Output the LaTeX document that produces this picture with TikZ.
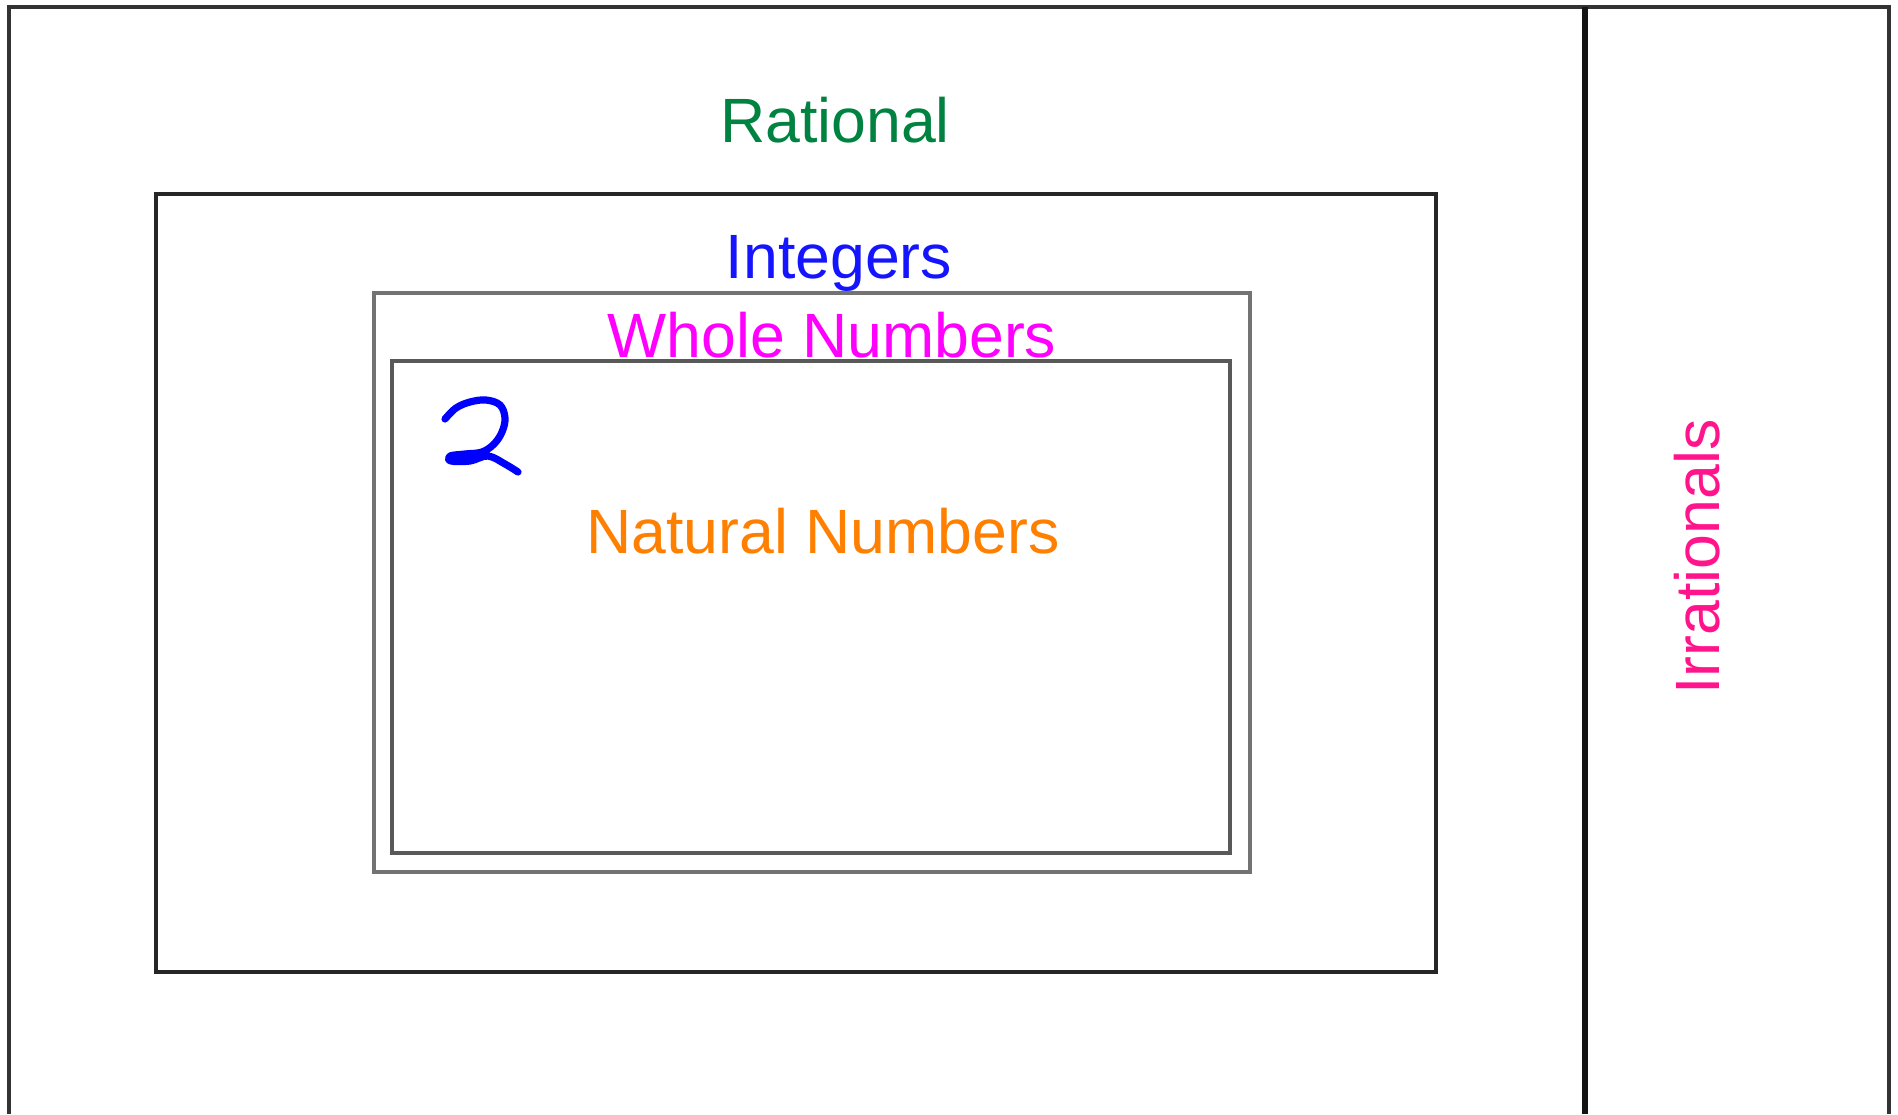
\documentclass[tikz,border=0pt]{standalone}
\usepackage{fontspec}
\setmainfont{Liberation Sans}
\definecolor{ratgreen}{RGB}{0,130,64}
\definecolor{intblue}{RGB}{20,20,255}
\definecolor{wholemag}{RGB}{255,0,255}
\definecolor{natorange}{RGB}{255,128,0}
\definecolor{irrpink}{RGB}{255,20,140}
\definecolor{handblue}{RGB}{0,0,255}
\tikzset{
  lbl/.style={anchor=base, inner sep=0pt, font=\fontsize{31.3}{37}\selectfont},
  outerline/.style={draw=black!80, line width=1.75pt},
  intbox/.style={draw=black!85, line width=1.75pt},
  wholebox/.style={draw=black!55, line width=2pt},
  natbox/.style={draw=black!65, line width=2pt},
  divider/.style={draw=black!92, line width=3pt},
  hand/.style={draw=handblue, line width=3.6pt, line cap=round, line join=round}
}
\begin{document}
\begin{tikzpicture}[x=0.5pt,y=-0.5pt]
\useasboundingbox (0,0) rectangle (1898,1114);
\fill[white] (0,0) rectangle (1898,1114);
% outer frame (open at bottom)
\draw[outerline] (9,1114) -- (9,7) -- (1889,7) -- (1889,1114);
% divider between rationals and irrationals
\draw[divider] (1585,7) -- (1585,1114);
% nested sets
\draw[intbox] (156,194) rectangle (1436,972);
\draw[wholebox] (374,293) rectangle (1250,872);
\draw[natbox] (392,361) rectangle (1230,853);
% labels
\node[lbl, text=ratgreen] (rational) at (835,142) {Rational};
\node[lbl, text=intblue] (integers) at (839,278) {Integers};
\node[lbl, text=wholemag] (whole) at (832,357) {Whole Numbers};
\node[lbl, text=natorange] (natural) at (823,553) {Natural Numbers};
\node[lbl, text=irrpink, rotate=90] (irrational) at (1719,557) {Irrationals};
% handwritten 2
\draw[hand] plot[smooth, tension=0.6] coordinates {(445,419) (456,408) (470,402) (486,400) (500,405) (505,418) (502,432) (494,444) (482,452) (465,454) (450,456) (451,461) (470,461) (488,456) (505,464) (518,472)};
\end{tikzpicture}
\end{document}
